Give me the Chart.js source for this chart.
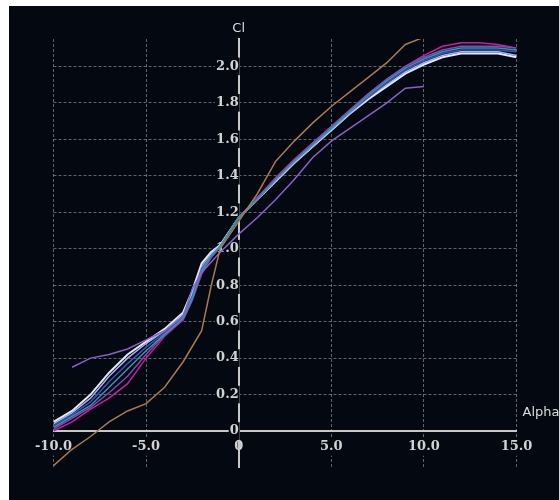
<!DOCTYPE html>
<html>
<head>
<meta charset="utf-8">
<script src="https://cdn.jsdelivr.net/npm/chart.js@4.4.1/dist/chart.umd.min.js"></script>
<style>
  html, body { margin: 0; padding: 0; background: #ffffff; }
  #wrap { position: absolute; left: 9px; top: 6px; width: 550px; height: 494px; background: #030811; }
</style>
</head>
<body>
<div id="wrap"><canvas id="clChart"></canvas></div>
<script>
/* ── data ── */
const alphaMain = [-10,-9,-8,-7,-6,-5,-4,-3,-2.5,-2,-1.5,-1,0,1,2,3,4,5,6,7,8,9,10,11,12,13,14,15];
const clWhite    = [0.05,0.11,0.20,0.32,0.42,0.49,0.56,0.65,0.77,0.92,0.98,1.02,1.17,1.27,1.37,1.47,1.56,1.65,1.74,1.82,1.89,1.96,2.01,2.05,2.07,2.07,2.07,2.05];
const clLavender = [0.04,0.10,0.18,0.30,0.40,0.48,0.55,0.64,0.75,0.90,0.97,1.02,1.17,1.27,1.37,1.47,1.56,1.65,1.74,1.83,1.90,1.97,2.02,2.06,2.08,2.08,2.08,2.06];
const clBlue     = [0.03,0.09,0.16,0.27,0.37,0.46,0.54,0.63,0.74,0.89,0.96,1.01,1.17,1.27,1.38,1.48,1.57,1.66,1.75,1.83,1.91,1.98,2.03,2.07,2.09,2.09,2.09,2.08];
const clTeal     = [0.02,0.08,0.14,0.24,0.34,0.44,0.53,0.62,0.73,0.88,0.96,1.01,1.17,1.27,1.38,1.48,1.57,1.66,1.75,1.84,1.92,1.99,2.04,2.08,2.10,2.10,2.10,2.09];
const clPurple   = [0.01,0.07,0.13,0.21,0.30,0.42,0.53,0.61,0.72,0.87,0.95,1.01,1.17,1.28,1.38,1.48,1.58,1.67,1.76,1.85,1.93,2.00,2.05,2.09,2.11,2.11,2.11,2.10];
const clMagenta  = [0.00,0.05,0.12,0.18,0.26,0.40,0.52,0.61,0.72,0.86,0.95,1.01,1.17,1.28,1.39,1.49,1.58,1.67,1.76,1.85,1.93,2.00,2.06,2.11,2.13,2.13,2.12,2.10];

const alphaBrown = [-10,-9,-8,-7,-6,-5,-4,-3,-2,-1.5,-1,0,1,2,3,4,5,6,7,8,9,10];
const clBrown    = [-0.19,-0.10,-0.03,0.05,0.11,0.15,0.24,0.38,0.55,0.79,1.00,1.15,1.30,1.48,1.59,1.69,1.78,1.86,1.94,2.02,2.12,2.16];

const alphaViolet = [-9,-8,-7,-6,-5,-4,-3,-2.5,-2,-1,0,1,2,3,4,5,6,7,8,9,10];
const clViolet    = [0.35,0.40,0.42,0.45,0.50,0.55,0.63,0.78,0.87,0.98,1.08,1.17,1.27,1.38,1.50,1.59,1.66,1.73,1.80,1.88,1.89];

const xTicks = [-10,-5,0,5,10,15];
const yTicks = [0,0.2,0.4,0.6,0.8,1.0,1.2,1.4,1.6,1.8,2.0];

const BG = '#030811';
const GRID = 'rgba(190,190,190,0.5)';
const AXIS = '#c8c8c8';
const TICK_FONT = { family: 'DejaVu Serif', size: 13, weight: 'bold' };

const pts = (xs, ys) => xs.map((x, i) => ({ x, y: ys[i] }));
const line = (xs, ys, color, w) => ({
  data: pts(xs, ys), borderColor: color, borderWidth: w || 1.5,
  pointRadius: 0, fill: false, tension: 0
});

/* ── background + axis names ── */
const decor = {
  id: 'decor',
  beforeDraw(chart) {
    const c = chart.ctx;
    c.save();
    c.fillStyle = BG;
    c.fillRect(0, 0, chart.width, chart.height);
    c.restore();
  },
  afterDraw(chart) {
    const c = chart.ctx, xs = chart.scales.x, ys = chart.scales.y, a = chart.chartArea;
    c.save();
    c.fillStyle = '#dcdcdc';
    c.font = '13px "DejaVu Sans"';
    c.textAlign = 'center';
    c.textBaseline = 'bottom';
    c.fillText('Cl', xs.getPixelForValue(0), a.top - 4);
    c.textAlign = 'left';
    c.textBaseline = 'middle';
    c.fillText('Alpha', a.right + 6, ys.getPixelForValue(0) - 18);
    c.restore();
  }
};

new Chart(document.getElementById('clChart'), {
  type: 'line',
  data: {
    datasets: [
      line(alphaBrown, clBrown, '#a87a50'),
      line(alphaViolet, clViolet, '#8a60c8'),
      line(alphaMain, clTeal, '#2aa0a0'),
      line(alphaMain, clBlue, '#3a50c8'),
      line(alphaMain, clPurple, '#9040c0'),
      line(alphaMain, clMagenta, '#c8209a'),
      line(alphaMain, clLavender, '#a8b4ee'),
      line(alphaMain, clWhite, '#e4e8fa', 2)
    ]
  },
  options: {
    responsive: true,
    maintainAspectRatio: false,
    animation: false,
    layout: { padding: { left: 44.5, top: 33, right: 42.5, bottom: 32.5 } },
    plugins: { legend: { display: false }, tooltip: { enabled: false } },
    scales: {
      x: {
        type: 'linear', min: -10, max: 15,
        position: { y: 0 },
        afterBuildTicks: s => { s.ticks = xTicks.map(v => ({ value: v })); },
        grid: { drawTicks: false, color: c => c.tick && c.tick.value === 0 ? 'rgba(0,0,0,0)' : GRID, lineWidth: 1 },
        border: { color: AXIS, width: 2, dash: [3, 2] },
        ticks: {
          color: '#d2d2d2', font: TICK_FONT, padding: 8, maxRotation: 0,
          showLabelBackdrop: true, backdropColor: BG, backdropPadding: 1,
          callback: v => v === 0 ? '0' : v.toFixed(1)
        }
      },
      y: {
        type: 'linear', min: -0.2, max: 2.15,
        position: { x: 0 },
        afterBuildTicks: s => { s.ticks = yTicks.map(v => ({ value: v })); },
        grid: { drawTicks: false, color: c => c.tick && c.tick.value === 0 ? 'rgba(0,0,0,0)' : GRID, lineWidth: 1 },
        border: { color: AXIS, width: 2, dash: [3, 2] },
        ticks: {
          color: '#d2d2d2', font: TICK_FONT, padding: 10,
          showLabelBackdrop: true, backdropColor: BG, backdropPadding: 1,
          callback: v => v === 0 ? '0' : v.toFixed(1)
        }
      }
    }
  },
  plugins: [decor]
});
</script>
</body>
</html>
